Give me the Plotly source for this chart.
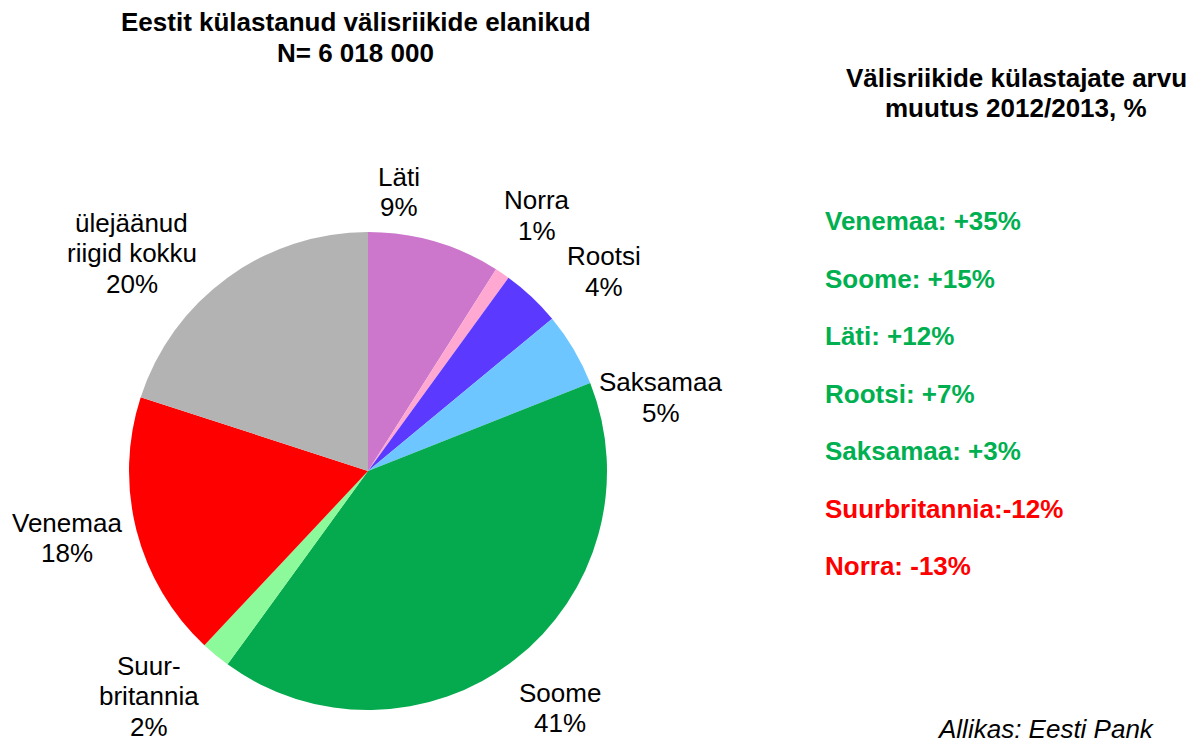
import math
import plotly.graph_objects as go

# Pie data (share of foreign visitors, %)
pie_labels = ["Läti", "Norra", "Rootsi", "Saksamaa", "Soome", "Suur-<br>britannia", "Venemaa", "ülejäänud<br>riigid kokku"]
pie_values = [9, 1, 4, 5, 41, 2, 18, 20]
pie_colors = ["#CC77CC", "#FFA8D2", "#5B39FF", "#6DC6FF", "#05A94E", "#8CF99B", "#FF0000", "#B3B3B3"]

# Change 2012/2013, %
chg_names = ["Venemaa", "Soome", "Läti", "Rootsi", "Saksamaa", "Suurbritannia", "Norra"]
chg_values = [35, 15, 12, 7, 3, -12, -13]
chg_seps = [": ", ": ", ": ", ": ", ": ", ":", ": "]

# layout-only tweaks for the (hand-placed) data labels, in px
label_nudge = [(-54, 14), (-2, -3), (27, 23), (30, 82), (5, -4), (-25, -10), (-6, -9), (-57, 29)]

W, H = 1202, 745
FONT = "Liberation Sans, Arial, sans-serif"
FS = 26
LINE = 30.5

# pie geometry (pixels)
CX, CY, R = 368, 471, 239
LABEL_R = 305

fig = go.Figure()
fig.add_trace(go.Pie(
    labels=[l.replace("<br>", " ") for l in pie_labels],
    values=pie_values,
    marker=dict(colors=pie_colors, line=dict(width=0)),
    sort=False,
    direction="clockwise",
    rotation=0,
    textinfo="none",
    showlegend=False,
    hoverinfo="label+value",
    domain=dict(x=[(CX - R) / W, (CX + R) / W], y=[1 - (CY + R) / H, 1 - (CY - R) / H]),
))


def ann(text, px, py, size=FS, color="black", xanchor="center", bold=False, italic=False):
    if bold:
        text = f"<b>{text}</b>"
    if italic:
        text = f"<i>{text}</i>"
    return dict(text=text, x=px / W, y=1 - py / H, xref="paper", yref="paper",
                xanchor=xanchor, yanchor="middle", showarrow=False,
                font=dict(family=FONT, size=size, color=color))


annotations = []

# data labels, placed radially from the slice mid-angle
total = sum(pie_values)
cum = 0
for lab, v, (dx, dy) in zip(pie_labels, pie_values, label_nudge):
    theta = math.radians(360 * (cum + v / 2) / total)
    cum += v
    bx = CX + LABEL_R * math.sin(theta) + dx
    by = CY - LABEL_R * math.cos(theta) + dy
    lines = lab.split("<br>") + [f"{v}%"]
    n = len(lines)
    for i, ln in enumerate(lines):
        annotations.append(ann(ln, bx, by + (i - (n - 1) / 2) * LINE))

# titles
annotations.append(ann("Eestit külastanud välisriikide elanikud", 356, 22, bold=True))
annotations.append(ann("N= 6 018 000", 355, 53, bold=True))
annotations.append(ann("Välisriikide külastajate arvu", 1016, 78, bold=True))
annotations.append(ann("muutus 2012/2013, %", 1016, 108, bold=True))
annotations.append(ann("Allikas: Eesti Pank", 1157, 729, xanchor="right", italic=True))

for i, (n, v, s) in enumerate(zip(chg_names, chg_values, chg_seps)):
    col = "#00B050" if v >= 0 else "#FF0000"
    annotations.append(ann(f"{n}{s}{v:+d}%", 823, 221 + i * 57.5, color=col, xanchor="left", bold=True))

fig.update_layout(
    width=W, height=H,
    margin=dict(l=0, r=0, t=0, b=0),
    paper_bgcolor="white", plot_bgcolor="white",
    annotations=annotations,
)

fig.write_html("out.html", config={"displayModeBar": False},
               post_script="document.body.style.margin='0';document.body.style.overflow='hidden';")
